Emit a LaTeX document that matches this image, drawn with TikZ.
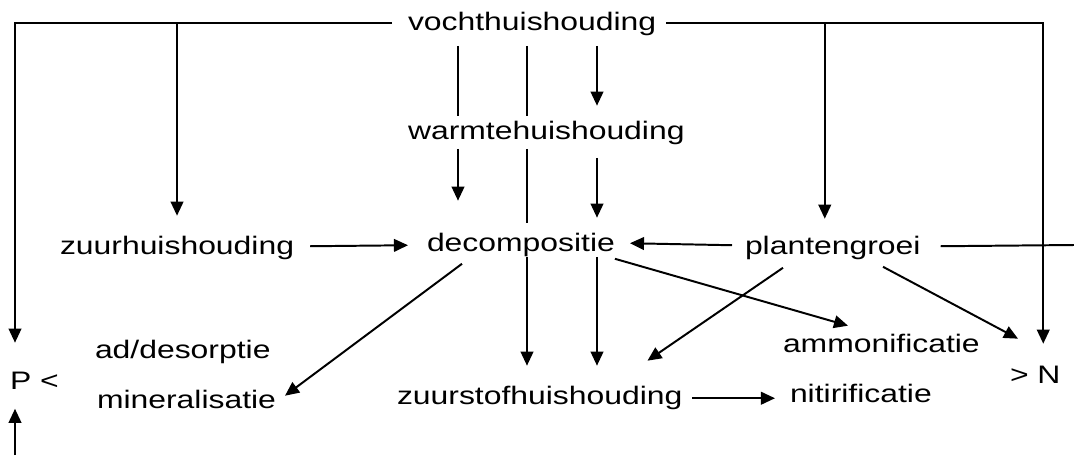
\documentclass[tikz,border=0pt]{standalone}
\usepackage{fontspec}
\setmainfont{Liberation Sans}[FakeStretch=1.26]
\usetikzlibrary{arrows.meta, positioning, calc}

\begin{document}
\begin{tikzpicture}[x=0.025cm, y=-0.025cm,
  term/.style={inner sep=0pt, outer sep=0pt, anchor=base west, font=\fontsize{18}{21}\selectfont, text height=11.6pt, text depth=3.4pt},
  flow/.style={-{Triangle[length=10pt, width=9pt]}, line width=1.4pt},
  link/.style={line width=1.4pt}]
  \useasboundingbox (0,0) rectangle (1074,455);

  % Terms
  \node[term] (vocht) at (408, 30) {vochthuishouding};
  \node[term] (warmte) at (408, 139) {warmtehuishouding};
  \node[term] (zuur) at (60, 254) {zuurhuishouding};
  \node[term] (decomp) at (427, 251) {decompositie};
  \node[term] (plant) at (745, 254) {plantengroei};
  \node[term] (adsorp) at (95, 358) {ad/desorptie};
  \node[term] (miner) at (97, 408) {mineralisatie};
  \node[term] (pl) at (10, 389) {P <};
  \node[term] (zuurstof) at (397, 404) {zuurstofhuishouding};
  \node[term] (nitri) at (790, 402) {nitirificatie};
  \node[term] (ammon) at (783, 352) {ammonificatie};
  \node[term] (nn) at (1010, 383) {> N};

  \coordinate (edge) at (1074, 245);
  \coordinate (bot) at (15, 455);
  \coordinate (pg) at ($(plant.north)+(-8,-19)$);

  % Outer frame from vochthuishouding
  \draw[flow] ($(vocht.west)+(-16,-1)$) -| ($(pl.north west)+(5,-30)$);
  \draw[flow] (vocht.west -| zuur.north) -- ($(zuur.north)+(0,-22)$);
  \draw[flow] ($(vocht.east)+(10,-1)$) -| ($(nn.north)+(8,-23)$);
  \draw[flow] (vocht.east -| pg) -- (pg);
  \draw[flow] (bot) -- ($(pl.south west)+(5,15)$);

  % Vertical links
  \draw[link] ($(vocht.south west)+(50,11)$) -- ($(warmte.north west)+(50,-7)$);
  \draw[flow] ($(warmte.south west)+(50,5)$) -- ($(decomp.north west)+(31,-34)$);

  \draw[link] ($(vocht.south west)+(119,11)$) -- ($(warmte.north west)+(119,-7)$);
  \draw[link] ($(warmte.south west)+(119,5)$) -- ($(decomp.north west)+(100,-12)$);
  \draw[flow] ($(decomp.south west)+(100,1)$) -- ($(zuurstof.north west)+(130,-22)$);

  \draw[flow] ($(vocht.south west)+(189,11)$) -- ($(warmte.north west)+(189,-17)$);
  \draw[flow] ($(warmte.south west)+(189,14)$) -- ($(decomp.north west)+(170,-17)$);
  \draw[flow] ($(decomp.south west)+(170,1)$) -- ($(zuurstof.north west)+(200,-22)$);

  % Middle row
  \draw[flow] ($(zuur.east)+(16,-2)$) -- ($(decomp.west)+(-19,0)$);
  \draw[flow] ($(plant.west)+(-13,-3)$) -- ($(decomp.east)+(15,-2)$);
  \draw[link] ($(plant.east)+(20,-2)$) -- (edge);

  % Diagonals
  \draw[flow] ($(decomp.south west)+(35,8)$) -- ($(miner.north east)+(9,4)$);
  \draw[flow] ($(decomp.south east)+(0,3)$) -- ($(ammon.north west)+(65,-10)$);
  \draw[flow] ($(plant.south west)+(38,9)$) -- ($(zuurstof.north east)+(-35,-27)$);
  \draw[flow] ($(plant.south west)+(138,8)$) -- ($(nn.north west)+(8,-28)$);

  % Bottom row
  \draw[flow] ($(zuurstof.east)+(10,0)$) -- ($(nitri.west)+(-15,2)$);
\end{tikzpicture}
\end{document}
